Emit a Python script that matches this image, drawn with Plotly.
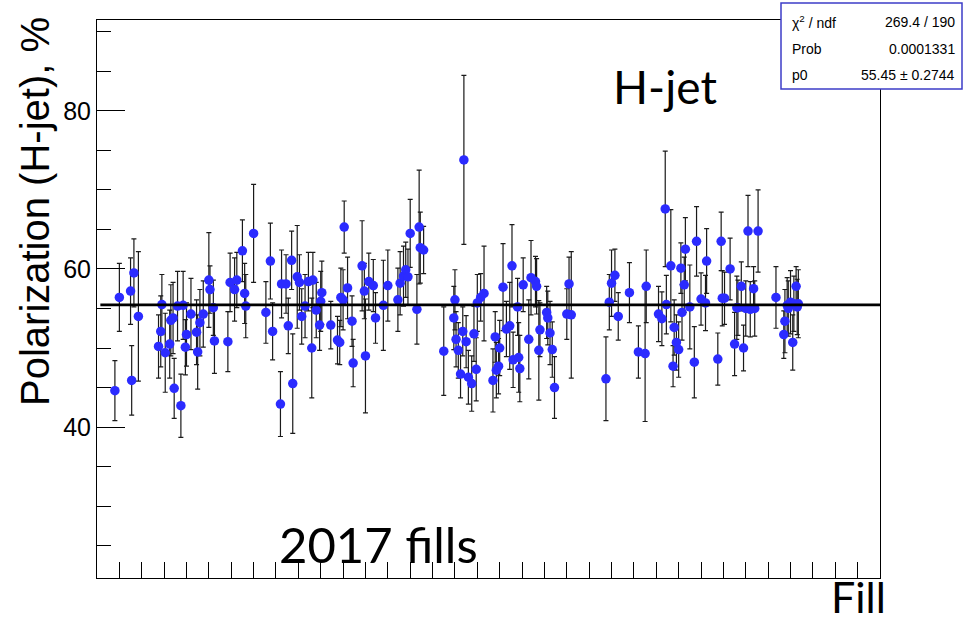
import plotly.graph_objects as go

# ---- data ----
fills = [
    20516, 20520, 20530, 20531, 20533, 20537, 20555, 20557, 20558, 20561,
    20565, 20566, 20568, 20569, 20572, 20575, 20577, 20579, 20580, 20584,
    20589, 20590, 20592, 20595, 20600, 20601, 20604, 20605, 20617, 20619,
    20623, 20625, 20630, 20632, 20633, 20640, 20651, 20655, 20657, 20664,
    20665, 20669, 20671, 20674, 20675, 20679, 20681, 20683, 20686, 20689,
    20693, 20692, 20696, 20699, 20700, 20701, 20709,
    20715, 20717, 20718, 20720, 20721, 20724, 20728, 20729, 20737, 20739,
    20740, 20743, 20747, 20749, 20756, 20760, 20769, 20771, 20774, 20776,
    20778, 20780, 20786, 20788, 20789, 20792, 20810, 20819, 20820, 20821,
    20823, 20825, 20827, 20828, 20830, 20832, 20835, 20837, 20839, 20840,
    20843, 20846, 20854, 20856, 20857, 20859, 20860, 20863, 20866, 20869,
    20871, 20872, 20876, 20877, 20878, 20881, 20886, 20888, 20892, 20893,
    20895, 20896, 20902, 20903, 20905, 20907, 20909, 20920, 20922, 20924,
    20955, 20958, 20960, 20963, 20966, 20976, 20984, 20990, 20991, 21002,
    21005, 21008, 21009, 21013, 21015, 21016, 21018, 21020, 21022, 21023,
    21025, 21026, 21030, 21034, 21036, 21040, 21044, 21045, 21055, 21058,
    21059, 21061, 21066, 21070, 21072, 21073, 21076, 21078, 21080, 21082,
    21084, 21087, 21088, 21091, 21107, 21114, 21115, 21117, 21118, 21120,
    21122, 21123, 21125, 21126, 21127,
]
polarization = [
    44.6, 56.4, 57.2, 45.9, 59.5, 54.0, 50.2, 52.1, 55.5, 49.4,
    50.5, 53.5, 53.8, 44.9, 55.3, 42.7, 55.4, 50.1, 51.7, 54.3,
    52.0, 49.5, 53.2, 54.3, 58.6, 57.4, 55.1, 50.9, 50.8, 58.3,
    57.4, 58.6, 62.3, 56.9, 55.3, 64.5, 54.5, 61.0, 52.1, 42.9,
    58.1, 58.1, 52.8, 61.1, 45.5, 59.0, 58.3, 54.0, 55.3, 58.4,
    58.6, 50.0, 54.8, 52.9, 55.9, 57.0, 52.9,
    51.0, 50.7, 56.4, 56.1, 65.3, 57.6, 53.4, 48.1, 60.4, 57.2,
    49.0, 58.4, 57.9, 53.8, 55.4, 57.9, 56.1, 58.2, 59.1, 59.9,
    59.0, 64.5, 54.9, 65.3, 62.7, 62.4, 49.6, 53.8, 56.1, 51.1,
    49.7, 46.7, 52.1, 73.8, 50.8, 46.3, 45.5, 51.8, 47.3, 55.7,
    56.4, 56.9, 45.9, 51.4, 47.2, 47.7, 50.0, 57.7, 52.4, 52.8,
    60.4, 48.5, 55.2, 48.8, 47.4, 58.0, 51.1, 58.9, 58.4, 57.8,
    49.7, 52.3, 54.5, 53.8, 51.9, 49.8, 45.0, 54.3, 58.1, 54.2,
    46.1, 55.8, 58.2, 59.2, 54.0, 57.0, 49.5, 49.3, 57.8, 54.3,
    53.7, 67.6, 55.5, 60.4, 47.7, 52.6, 50.7, 49.8, 60.1, 54.5,
    58.0, 62.5, 55.2, 48.2, 63.5, 56.2, 55.7, 61.0, 48.6, 63.5,
    56.3, 56.3, 60.0, 50.5, 55.1, 55.1, 57.8, 50.0, 55.0, 64.8,
    54.9, 57.5, 55.0, 64.8, 56.4, 51.7, 53.4, 55.4, 55.0, 55.8,
    50.7, 55.6, 57.8, 55.2, 55.6,
]
errors = [
    3.8, 4.3, 4.2, 4.4, 4.3, 8.2, 4.0, 4.5, 3.8, 5.0,
    4.3, 4.5, 4.5, 3.8, 4.4, 4.0, 4.3, 3.5, 4.0, 4.5,
    4.1, 4.7, 4.2, 4.2, 6.0, 3.0, 3.5, 4.1, 3.8, 3.7,
    4.0, 3.5, 3.9, 3.8, 4.0, 6.2, 3.9, 4.8, 3.6, 4.1,
    4.3, 3.7, 3.5, 3.7, 6.3, 6.5, 3.5, 3.5, 4.0, 3.7,
    3.5, 6.3, 3.5, 3.2, 3.8, 4.0, 3.0,
    3.0, 2.8, 3.7, 3.8, 3.3, 3.9, 3.2, 3.0, 5.7, 3.5,
    7.2, 3.6, 3.3, 3.2, 5.7, 4.5, 4.0, 4.0, 3.8, 3.5,
    3.5, 4.3, 4.4, 7.2, 4.5, 3.0, 5.6, 4.0, 3.8, 3.5,
    3.5, 3.0, 3.1, 10.7, 3.3, 3.4, 3.5, 3.5, 4.0, 3.6,
    3.0, 6.0, 4.0, 3.2, 3.5, 3.5, 3.5, 5.5, 3.5, 5.5,
    5.2, 3.5, 3.6, 4.4, 4.2, 3.4, 5.0, 4.7, 3.2, 3.5,
    6.3, 3.4, 3.3, 3.4, 4.0, 3.5, 3.9, 3.2, 3.4, 8.0,
    5.3, 3.5, 4.2, 3.3, 3.0, 3.8, 3.3, 8.6, 4.6, 3.5,
    3.4, 7.3, 3.7, 7.1, 2.6, 3.5, 3.5, 3.5, 3.2, 3.5,
    3.5, 4.0, 5.3, 4.5, 4.4, 3.3, 3.5, 4.1, 3.3, 3.7,
    3.5, 3.3, 3.9, 4.0, 4.0, 3.5, 3.1, 2.9, 3.5, 4.5,
    3.5, 2.8, 3.5, 5.2, 3.9, 3.0, 4.0, 3.5, 3.5, 4.0,
    3.5, 3.5, 2.5, 3.5, 4.3,
]
fit_p0 = 55.45
x_range = [20500, 21200]
y_range = [20.9, 91.5]
stat_labels = ["χ<sup>2</sup> / ndf", "Prob", "p0"]
stat_values = ["269.4 / 190", "0.0001331", "55.45 ± 0.2744"]

fig = go.Figure()

fig.add_trace(go.Scatter(
    x=fills, y=polarization, mode="markers",
    marker=dict(color="#2b2bff", size=9.5, line=dict(width=0)),
    error_y=dict(type="data", array=errors, visible=True,
                 color="#1a1a1a", thickness=1.2, width=2.5),
    showlegend=False, hoverinfo="x+y",
))

fig.add_trace(go.Scatter(
    x=[x_range[0] + 3, x_range[1]], y=[fit_p0, fit_p0], mode="lines",
    line=dict(color="black", width=2.8), showlegend=False,
))

fig.update_layout(
    width=964, height=625,
    margin=dict(l=97, r=84, t=20, b=47),
    paper_bgcolor="white", plot_bgcolor="white",
    font=dict(family="Liberation Sans, Arial, sans-serif", color="black"),
    xaxis=dict(
        range=x_range, showgrid=False, zeroline=False,
        showline=True, linecolor="black", linewidth=1, mirror=True,
        ticks="inside", tickcolor="black", ticklen=16, tickwidth=1,
        tick0=20500, dtick=20, showticklabels=False,
    ),
    yaxis=dict(
        range=y_range, showgrid=False, zeroline=False,
        showline=True, linecolor="black", linewidth=1, mirror=True,
        ticks="inside", tickcolor="black", ticklen=28, tickwidth=1,
        tick0=0, dtick=20,
        tickfont=dict(size=25, family="Liberation Sans, Arial, sans-serif"),
        minor=dict(ticks="inside", ticklen=14, tickcolor="black",
                   tickwidth=1, dtick=5, tick0=0, showgrid=False),
    ),
)

def px_x(px):
    return (px - 97) / 783.0

def px_y(py):
    return (578 - py) / 558.0

# y-axis title (ROOT style, aligned to the top end)
fig.add_annotation(
    text="Polarization (H-jet), %", textangle=-90,
    xref="paper", yref="paper", x=px_x(35), y=px_y(212),
    showarrow=False, font=dict(size=40, family="Liberation Sans, Arial, sans-serif"),
    xanchor="center", yanchor="middle",
)

# Overlaid labels
fig.add_annotation(text="H-jet", xref="paper", yref="paper",
                   x=px_x(665), y=px_y(86), showarrow=False,
                   font=dict(size=46, family="Lato, sans-serif"),
                   xanchor="center", yanchor="middle")
fig.add_annotation(text="2017 fills", xref="paper", yref="paper",
                   x=px_x(378), y=px_y(544), showarrow=False,
                   font=dict(size=49, family="Lato, sans-serif"),
                   xanchor="center", yanchor="middle")
fig.add_annotation(text="Fill", xref="paper", yref="paper",
                   x=px_x(858), y=px_y(596), showarrow=False,
                   font=dict(size=43, family="Lato, sans-serif"),
                   xanchor="center", yanchor="middle")

# Stats box
fig.add_shape(type="rect", xref="paper", yref="paper",
              x0=px_x(781), x1=px_x(962), y0=px_y(89), y1=px_y(3),
              line=dict(color="#3c3cc8", width=1.5), fillcolor="white",
              layer="above")
row_y = [22, 49, 75]
for lab, val, ry in zip(stat_labels, stat_values, row_y):
    fig.add_annotation(text=lab, xref="paper", yref="paper",
                       x=px_x(790), y=px_y(ry), showarrow=False,
                       xanchor="left", yanchor="middle",
                       font=dict(size=14, family="Liberation Sans, Arial, sans-serif"))
    fig.add_annotation(text=val, xref="paper", yref="paper",
                       x=px_x(957), y=px_y(ry), showarrow=False,
                       xanchor="right", yanchor="middle",
                       font=dict(size=14, family="Liberation Sans, Arial, sans-serif"))

fig.write_html("out.html")
